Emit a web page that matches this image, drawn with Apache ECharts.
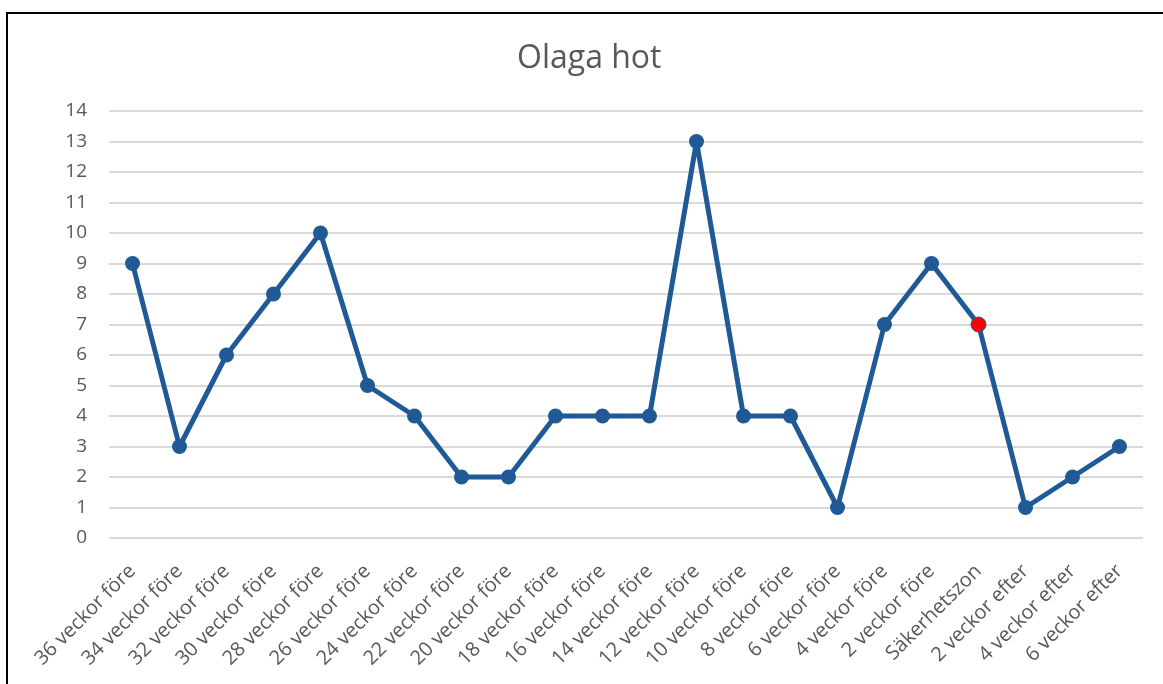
<!DOCTYPE html>
<html>
<head>
<meta charset="utf-8">
<script src="https://cdn.jsdelivr.net/npm/echarts@6/dist/echarts.min.js"></script>
<style>
  html, body { margin: 0; padding: 0; background: #fff; }
  #main { width: 1163px; height: 684px; }
</style>
</head>
<body>
<div id="main"></div>
<script>
// chart data
var categories = [
  '36 veckor före', '34 veckor före', '32 veckor före', '30 veckor före',
  '28 veckor före', '26 veckor före', '24 veckor före', '22 veckor före',
  '20 veckor före', '18 veckor före', '16 veckor före', '14 veckor före',
  '12 veckor före', '10 veckor före', '8 veckor före', '6 veckor före',
  '4 veckor före', '2 veckor före', 'Säkerhetszon', '2 veckor efter',
  '4 veckor efter', '6 veckor efter'
];
var values = [9, 3, 6, 8, 10, 5, 4, 2, 2, 4, 4, 4, 13, 4, 4, 1, 7, 9, 7, 1, 2, 3];
var highlight = 'Säkerhetszon';

var lineColor = '#1F5A96';
var seriesData = values.map(function (v, i) {
  if (categories[i] === highlight) {
    return { value: v, itemStyle: { color: '#FF0000', borderColor: lineColor, borderWidth: 1 } };
  }
  return v;
});

var myChart = echarts.init(document.getElementById('main'));
var option = {
  animation: false,
  title: {
    text: 'Olaga hot',
    left: 512,
    top: 38,
    textStyle: { color: '#595959', fontSize: 32, fontWeight: 'normal', fontFamily: 'Open Sans' }
  },
  graphic: [{
    type: 'rect',
    shape: { x: 7, y: 13, width: 1200, height: 700 },
    style: { fill: 'none', stroke: '#000', lineWidth: 2 }
  }],
  grid: { left: 109, right: 20, top: 111, bottom: 146 },
  xAxis: {
    type: 'category',
    data: categories,
    boundaryGap: true,
    axisLine: { show: false },
    axisTick: { show: false },
    axisLabel: {
      rotate: 45,
      interval: 0,
      margin: 30,
      color: '#595959',
      fontSize: 20,
      fontFamily: 'Open Sans'
    }
  },
  yAxis: {
    type: 'value',
    min: 0,
    max: 14,
    interval: 1,
    axisLine: { show: false },
    axisTick: { show: false },
    axisLabel: { color: '#595959', fontSize: 19, margin: 22, fontFamily: 'Open Sans' },
    splitLine: { lineStyle: { color: '#D9D9D9', width: 2 } }
  },
  series: [{
    type: 'line',
    data: seriesData,
    symbol: 'circle',
    symbolSize: 15,
    lineStyle: { color: lineColor, width: 5 },
    itemStyle: { color: lineColor }
  }]
};
myChart.setOption(option);
</script>
</body>
</html>
